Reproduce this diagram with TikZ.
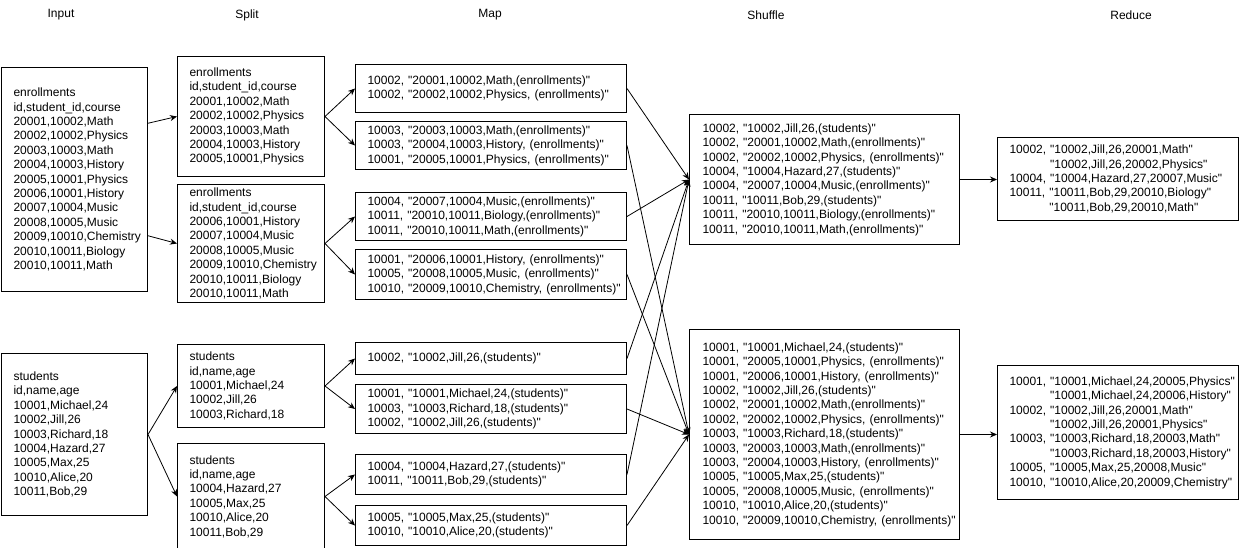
\documentclass[tikz,border=0pt]{standalone}
\usepackage{fontspec}
\setmainfont{Liberation Sans}[Ligatures=TeXOff]
\usetikzlibrary{arrows.meta, positioning, calc}

\begin{document}
\begin{tikzpicture}[
  x=1pt, y=-1pt,
  tbl/.style={draw, line width=1pt, anchor=north west, align=left,
    inner xsep=12pt, inner ysep=0pt, font=\fontsize{12pt}{14.4pt}\selectfont,
    execute at begin node={\linepenalty=5000\rightskip=0pt plus 1fil minus 12pt}},
  inbox/.style={tbl, text width=122pt},
  splitbox/.style={tbl, text width=123pt},
  mapbox/.style={tbl, text width=247pt},
  shufbox/.style={tbl, text width=244pt, inner xsep=13pt},
  redbox/.style={tbl, text width=217pt},
  title/.style={inner sep=0pt, font=\fontsize{12pt}{14.4pt}\selectfont},
  >={Stealth[length=7pt, width=6pt]},
  link/.style={->, line width=0.8pt}
]
\useasboundingbox (0,0) rectangle (1241,548);

\node[title] (tin) at (61,15) {Input};
\node[title] (tsplit) at (247,15) {Split};
\node[title] (tmap) at (490,15) {Map};
\node[title] (tshuf) at (766,15) {Shuffle};
\node[title] (tred) at (1131,15) {Reduce};

\node[inbox, minimum height=224pt] (ie) at (1,67) {enrollments\\ id,student\_id,course\\ 20001,10002,Math\\ 20002,10002,Physics\\ 20003,10003,Math\\ 20004,10003,History\\ 20005,10001,Physics\\ 20006,10001,History\\ 20007,10004,Music\\ 20008,10005,Music\\ 20009,10010,Chemistry\\ 20010,10011,Biology\\ 20010,10011,Math};
\node[inbox, minimum height=162pt, below=61pt of ie] (is) {students\\ id,name,age\\ 10001,Michael,24\\ 10002,Jill,26\\ 10003,Richard,18\\ 10004,Hazard,27\\ 10005,Max,25\\ 10010,Alice,20\\ 10011,Bob,29};

\node[splitbox, minimum height=120pt] (se1) at (177,56) {enrollments\\ id,student\_id,course\\ 20001,10002,Math\\ 20002,10002,Physics\\ 20003,10003,Math\\ 20004,10003,History\\ 20005,10001,Physics};
\node[splitbox, minimum height=118pt, below=7pt of se1] (se2) {enrollments\\ id,student\_id,course\\ 20006,10001,History\\ 20007,10004,Music\\ 20008,10005,Music\\ 20009,10010,Chemistry\\ 20010,10011,Biology\\ 20010,10011,Math};
\node[splitbox, minimum height=83pt, below=41pt of se2] (ss1) {students\\ id,name,age\\ 10001,Michael,24\\ 10002,Jill,26\\ 10003,Richard,18};
\node[splitbox, minimum height=106pt, below=15pt of ss1] (ss2) {students\\ id,name,age\\ 10004,Hazard,27\\ 10005,Max,25\\ 10010,Alice,20\\ 10011,Bob,29};

\node[mapbox, minimum height=48pt] (m1) at (355,64) {10002, "20001,10002,Math,(enrollments)"\\ 10002, "20002,10002,Physics, (enrollments)"};
\node[mapbox, minimum height=48pt, below=8pt of m1] (m2) {10003, "20003,10003,Math,(enrollments)"\\ 10003, "20004,10003,History, (enrollments)"\\ 10001, "20005,10001,Physics, (enrollments)"};
\node[mapbox, minimum height=48pt, below=22pt of m2] (m3) {10004, "20007,10004,Music,(enrollments)"\\ 10011, "20010,10011,Biology,(enrollments)"\\ 10011, "20010,10011,Math,(enrollments)"};
\node[mapbox, minimum height=50pt, below=8pt of m3] (m4) {10001, "20006,10001,History, (enrollments)"\\ 10005, "20008,10005,Music, (enrollments)"\\ 10010, "20009,10010,Chemistry, (enrollments)"};
\node[mapbox, minimum height=32pt, below=42pt of m4] (m5) {10002, "10002,Jill,26,(students)"};
\node[mapbox, minimum height=49pt, below=9pt of m5] (m6) {10001, "10001,Michael,24,(students)"\\ 10003, "10003,Richard,18,(students)"\\ 10002, "10002,Jill,26,(students)"};
\node[mapbox, minimum height=40pt, below=20pt of m6] (m7) {10004, "10004,Hazard,27,(students)"\\ 10011, "10011,Bob,29,(students)"};
\node[mapbox, minimum height=40pt, below=10pt of m7] (m8) {10005, "10005,Max,25,(students)"\\ 10010, "10010,Alice,20,(students)"};

\node[shufbox, minimum height=130pt] (sh1) at (689,114) {10002, "10002,Jill,26,(students)"\\ 10002, "20001,10002,Math,(enrollments)"\\ 10002, "20002,10002,Physics, (enrollments)"\\ 10004, "10004,Hazard,27,(students)"\\ 10004, "20007,10004,Music,(enrollments)"\\ 10011, "10011,Bob,29,(students)"\\ 10011, "20010,10011,Biology,(enrollments)"\\ 10011, "20010,10011,Math,(enrollments)"};
\node[shufbox, minimum height=210pt, below=84pt of sh1] (sh2) {10001, "10001,Michael,24,(students)"\\ 10001, "20005,10001,Physics, (enrollments)"\\ 10001, "20006,10001,History, (enrollments)"\\ 10002, "10002,Jill,26,(students)"\\ 10002, "20001,10002,Math,(enrollments)"\\ 10002, "20002,10002,Physics, (enrollments)"\\ 10003, "10003,Richard,18,(students)"\\ 10003, "20003,10003,Math,(enrollments)"\\ 10003, "20004,10003,History, (enrollments)"\\ 10005, "10005,Max,25,(students)"\\ 10005, "20008,10005,Music, (enrollments)"\\ 10010, "10010,Alice,20,(students)"\\ 10010, "20009,10010,Chemistry, (enrollments)"};

\node[redbox, minimum height=83pt] (rd1) at (997,137) {10002, "10002,Jill,26,20001,Math"\\ \hphantom{10002, }"10002,Jill,26,20002,Physics"\\ 10004, "10004,Hazard,27,20007,Music"\\ 10011, "10011,Bob,29,20010,Biology"\\ \hphantom{10011, }"10011,Bob,29,20010,Math"};
\node[redbox, minimum height=134pt, below=144pt of rd1] (rd2) {10001, "10001,Michael,24,20005,Physics"\\ \hphantom{10001, }"10001,Michael,24,20006,History"\\ 10002, "10002,Jill,26,20001,Math"\\ \hphantom{10002, }"10002,Jill,26,20001,Physics"\\ 10003, "10003,Richard,18,20003,Math"\\ \hphantom{10003, }"10003,Richard,18,20003,History"\\ 10005, "10005,Max,25,20008,Music"\\ 10010, "10010,Alice,20,20009,Chemistry"};

\draw[link] ($(ie.north east)!0.25!(ie.south east)$) -- (se1.west);
\draw[link] ($(ie.north east)!0.75!(ie.south east)$) -- (se2.west);
\draw[link] (is.east) -- (ss1.west);
\draw[link] (is.east) -- (ss2.west);
\foreach \s/\a/\b in {se1/m1/m2, se2/m3/m4, ss1/m5/m6, ss2/m7/m8} {
  \draw[link] (\s.east) -- (\a.west);
  \draw[link] (\s.east) -- (\b.west);
}
\foreach \m in {m1,m3,m5,m7} \draw[link] (\m.east) -- (sh1.west);
\foreach \m in {m2,m4,m6,m8} \draw[link] (\m.east) -- (sh2.west);
\draw[link] (sh1.east) -- (sh1.east -| rd1.west);
\draw[link] (sh2.east) -- (sh2.east -| rd2.west);
\end{tikzpicture}
\end{document}
